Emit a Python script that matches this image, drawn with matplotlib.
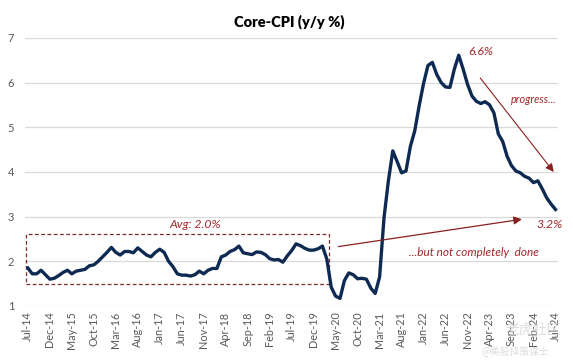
"""Core-CPI y/y line chart with annotations."""
import matplotlib
matplotlib.use("Agg")
import matplotlib.pyplot as plt
import pandas as pd

# monthly core CPI, y/y %, Jul-14 .. Jul-24
dates = pd.date_range("2014-07-01", "2024-07-01", freq="MS")
core_cpi = [
    1.85, 1.72, 1.72, 1.80, 1.70, 1.60,
    1.62, 1.68, 1.75, 1.80, 1.72, 1.78, 1.80, 1.82, 1.90, 1.92, 2.00, 2.10,
    2.20, 2.31, 2.20, 2.14, 2.22, 2.22, 2.19, 2.30, 2.22, 2.14, 2.10, 2.20,
    2.27, 2.20, 2.00, 1.88, 1.72, 1.69, 1.69, 1.67, 1.70, 1.78, 1.72, 1.80,
    1.84, 1.84, 2.10, 2.14, 2.22, 2.26, 2.34, 2.19, 2.17, 2.15, 2.21, 2.20,
    2.15, 2.06, 2.03, 2.04, 1.98, 2.12, 2.24, 2.39, 2.35, 2.29, 2.25, 2.25,
    2.28, 2.34, 2.05, 1.42, 1.22, 1.17, 1.57, 1.74, 1.70, 1.61, 1.62, 1.60,
    1.40, 1.28, 1.65, 2.97, 3.80, 4.47, 4.23, 3.98, 4.02, 4.57, 4.92, 5.48,
    5.98, 6.38, 6.45, 6.18, 6.00, 5.90, 5.89, 6.30, 6.61, 6.30, 5.96, 5.70,
    5.58, 5.53, 5.57, 5.50, 5.32, 4.85, 4.68, 4.35, 4.14, 4.02, 3.98, 3.90,
    3.86, 3.76, 3.80, 3.62, 3.42, 3.28, 3.16,
]
tick_labels = [d.strftime("%b-%y") for d in dates[::5]]
avg_box = (1.5, 2.6)      # pre-covid range
avg_label = "Avg: 2.0%"
peak_label = "6.6%"
last_label = "3.2%"

NAVY = "#0e2a52"
RED = "#a3262a"
GREY = "#595959"

plt.rcParams["font.family"] = ["Lato", "DejaVu Sans"]

fig = plt.figure(figsize=(5.73, 3.6), dpi=100)
ax = fig.add_axes([0.044, 0.15, 0.93, 0.745])

x = list(range(len(core_cpi)))
ax.plot(x, core_cpi, color=NAVY, linewidth=2.4, solid_joinstyle="round", zorder=3)

ax.set_ylim(1, 7)
ax.set_xlim(-0.6, len(core_cpi) - 0.4)
ax.set_yticks(range(1, 8))
ax.set_xticks(x[::5])
ax.set_xticklabels(tick_labels, rotation=90, fontsize=7.8, color=GREY)
ax.tick_params(axis="y", labelsize=8, colors=GREY, length=0, pad=8)
ax.tick_params(axis="x", length=0, pad=4)
ax.grid(axis="y", color="#d9d9d9", linewidth=0.9)
ax.set_axisbelow(True)
for s in ax.spines.values():
    s.set_visible(False)

# dashed box around the pre-covid period
ax.add_patch(plt.Rectangle((-0.5, avg_box[0]), 69, avg_box[1] - avg_box[0],
                           fill=False, ls=(0, (3, 2)), lw=0.9, ec="#7a2a2a", zorder=2))
ax.text(38, 2.83, avg_label, color=RED, style="italic", fontsize=8.8, ha="center", va="center")

peak_i = core_cpi.index(max(core_cpi))
ax.text(peak_i + 5, 6.7, peak_label, color=RED, style="italic", fontsize=8.8, ha="center", va="center")
ax.text(len(core_cpi) + 0.6, 2.83, last_label, color=RED, style="italic", fontsize=8.8,
        ha="right", va="center")

ax.annotate("", xy=(120, 3.95), xytext=(102.5, 6.15),
            arrowprops=dict(arrowstyle="-|>", color="#8b2020", lw=0.8, mutation_scale=12))
ax.text(115, 5.63, "progress...", color=RED, style="italic", fontsize=7.8, ha="center", va="center")

ax.annotate("", xy=(113, 2.95), xytext=(70, 2.32),
            arrowprops=dict(arrowstyle="-|>", color="#8b2020", lw=0.9, mutation_scale=12))
ax.text(101.5, 2.19, "...but not completely  done", color=RED, style="italic", fontsize=8.5,
        ha="center", va="center")

fig.text(0.505, 0.94, "Core-CPI (y/y %)", ha="center", va="center", fontsize=10.5,
         fontweight="heavy", color="black")

# faint watermark
fig.text(0.93, 0.085, "老虎社区", family=["Noto Sans CJK SC", "DejaVu Sans"], fontsize=10,
         color="#d4d4d4", ha="center", va="center", alpha=0.8, zorder=0)
fig.text(0.90, 0.022, "@美股择策谋士", family=["Noto Sans CJK SC", "DejaVu Sans"], fontsize=7,
         color="#d4d4d4", ha="center", va="center", alpha=0.8, zorder=0)

fig.savefig("out.png", dpi=100)
